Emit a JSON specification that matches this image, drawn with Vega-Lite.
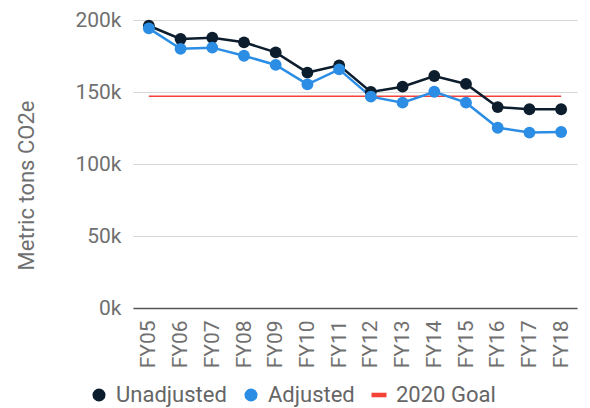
{
  "$schema": "https://vega.github.io/schema/vega-lite/v6.json",
  "autosize": "none",
  "width": 444,
  "height": 288,
  "padding": {"left": 133, "top": 20, "right": 13, "bottom": 100},
  "config": {
    "font": "Roboto",
    "view": {"stroke": null},
    "axis": {"labelFont": "Roboto", "titleFont": "Roboto", "labelColor": "#707070", "titleColor": "#707070"},
    "legend": {"labelFont": "Roboto", "labelColor": "#666666"}
  },
  "data": {
    "values": [
      {"fy": "FY05", "series": "Unadjusted", "value": 196000},
      {"fy": "FY06", "series": "Unadjusted", "value": 186800},
      {"fy": "FY07", "series": "Unadjusted", "value": 187700},
      {"fy": "FY08", "series": "Unadjusted", "value": 184500},
      {"fy": "FY09", "series": "Unadjusted", "value": 177500},
      {"fy": "FY10", "series": "Unadjusted", "value": 163500},
      {"fy": "FY11", "series": "Unadjusted", "value": 168500},
      {"fy": "FY12", "series": "Unadjusted", "value": 150000},
      {"fy": "FY13", "series": "Unadjusted", "value": 153700},
      {"fy": "FY14", "series": "Unadjusted", "value": 161100},
      {"fy": "FY15", "series": "Unadjusted", "value": 155600},
      {"fy": "FY16", "series": "Unadjusted", "value": 139500},
      {"fy": "FY17", "series": "Unadjusted", "value": 138000},
      {"fy": "FY18", "series": "Unadjusted", "value": 138000},
      {"fy": "FY05", "series": "Adjusted", "value": 194200},
      {"fy": "FY06", "series": "Adjusted", "value": 180000},
      {"fy": "FY07", "series": "Adjusted", "value": 180800},
      {"fy": "FY08", "series": "Adjusted", "value": 175200},
      {"fy": "FY09", "series": "Adjusted", "value": 168800},
      {"fy": "FY10", "series": "Adjusted", "value": 155300},
      {"fy": "FY11", "series": "Adjusted", "value": 165700},
      {"fy": "FY12", "series": "Adjusted", "value": 146800},
      {"fy": "FY13", "series": "Adjusted", "value": 142600},
      {"fy": "FY14", "series": "Adjusted", "value": 150200},
      {"fy": "FY15", "series": "Adjusted", "value": 142600},
      {"fy": "FY16", "series": "Adjusted", "value": 125200},
      {"fy": "FY17", "series": "Adjusted", "value": 121800},
      {"fy": "FY18", "series": "Adjusted", "value": 122200},
      {"fy": "FY05", "series": "2020 Goal", "value": 147000},
      {"fy": "FY18", "series": "2020 Goal", "value": 147000}
    ]
  },
  "encoding": {
    "x": {
      "field": "fy", "type": "ordinal",
      "scale": {"type": "point", "padding": 0.5},
      "sort": "ascending",
      "axis": {"title": null, "labelAngle": -90, "labelFontSize": 21, "labelPadding": 12, "ticks": false, "domainColor": "#555555", "domainWidth": 1.5, "grid": false}
    },
    "y": {
      "field": "value", "type": "quantitative",
      "scale": {"domain": [0, 200000], "nice": false},
      "axis": {"title": "Metric tons CO2e", "values": [0, 50000, 100000, 150000, 200000], "labelExpr": "(datum.value/1000) + 'k'", "labelFontSize": 21, "titleFontSize": 22, "titleFontWeight": "normal", "titleX": -95, "titleY": 165, "labelPadding": 12, "ticks": false, "domain": false, "gridColor": "#d6d6d6", "gridWidth": 1.2}
    },
    "color": {
      "field": "series", "type": "nominal",
      "scale": {"domain": ["Unadjusted", "Adjusted", "2020 Goal"], "range": ["#0c1d2e", "#2b8de4", "#f44336"]},
      "legend": {
        "title": null, "orient": "none", "direction": "horizontal",
        "legendX": -45, "legendY": 364,
        "labelFontSize": 22, "symbolSize": 170, "labelOffset": 6, "columnPadding": 13,
        "encode": {"symbols": {"update": {
          "fill": {"scale": "color", "field": "value"},
          "strokeWidth": {"value": 0},
          "shape": {"signal": "datum.value === '2020 Goal' ? 'M-1.15,-0.35H1.15V0.35H-1.15Z' : 'circle'"}
        }}}
      }
    }
  },
  "layer": [
    {"transform": [{"filter": "datum.series === '2020 Goal'"}], "mark": {"type": "line", "strokeWidth": 1.5}},
    {"transform": [{"filter": "datum.series !== '2020 Goal'"}], "mark": {"type": "line", "strokeWidth": 2.5}},
    {"transform": [{"filter": "datum.series !== '2020 Goal'"}], "mark": {"type": "point", "filled": true, "opacity": 1, "size": 140}}
  ]
}
